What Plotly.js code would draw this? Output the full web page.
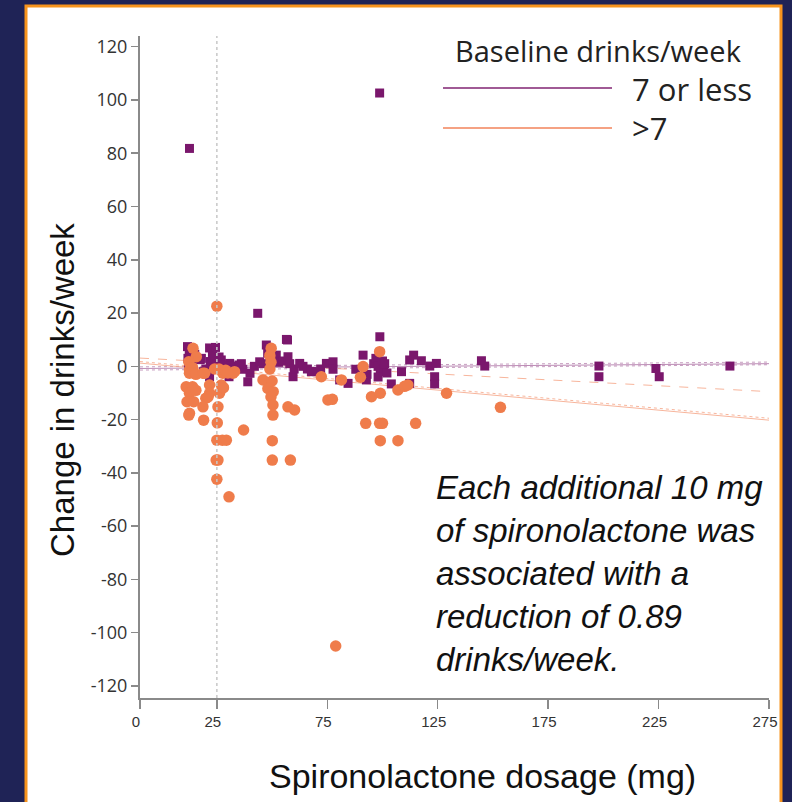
<!DOCTYPE html>
<html>
<head>
<meta charset="utf-8">
<script src="https://cdn.plot.ly/plotly-3.0.1.min.js"></script>
<style>html,body{margin:0;padding:0;background:#1f2356;}#chart{width:792px;height:802px;}</style>
</head>
<body>
<div id="chart"></div>
<script>
// ---- Data ----
const groupNames = ["7 or less", ">7"];

// Baseline 7 or less drinks/week: dose (mg) and change in drinks/week
const lowDose = [12.6, 98.7, 43.5, 57, 98.8,
  11.7, 12.5, 11.9, 13.5, 12.2, 15, 17.5, 18, 21.7, 24.4, 23, 26, 27, 22, 25, 20, 21.7, 19, 28,
  30.8, 31.5, 33, 35, 36.8, 39, 30.5, 36.1, 40, 42, 44.4, 46, 47.4, 48, 50, 51.9, 53, 55, 56.5,
  57.2, 58, 59.5, 60, 62.5, 64, 66, 67.8, 70, 72, 74.6, 77.6, 77.6, 80.6, 84.4, 87.9, 91.2, 92.7,
  93, 96, 97, 98, 99, 100, 100.5, 101, 98, 102, 104, 108.6, 112.3, 114.1, 117.6, 112.3, 121.4,
  124.4, 123.6, 123.6, 144.8, 146.3, 198, 198, 223.8, 225.3, 257.3];
const lowChange = [81.8, 102.6, 19.9, 9.9, 11.1,
  7.4, 5.5, 3.0, 1.5, -0.5, 4.5, 2.5, 3, 6.9, 7.1, 4, 3.5, 2.4, 1.8, 1.0, -1, -3.9, -2, 0.5,
  1.1, 0, -0.5, 0.5, -1.1, -5.8, -3.9, 1, -2.6, 0, 1.7, 1.0, 8, 5, 4, 4.2, 1.5, 2, 10.1,
  3.6, 1, -3.9, -1, 1.1, 0, -1, -2, -2, -1, 1.1, 1.7, -1.1, -5.1, -6.4, -1.1, 4.2, -5.1,
  -3, 1, 3, 0, -2, 2, -1, 1, -4, -2.5, -6.6, -2, 2.4, 4.2, 2.1, -6.4, 0.1,
  1.1, -3.9, -6.6, 2.1, 0.1, 0.1, -3.9, -0.8, -3.9, 0.1];

// Baseline more than 7 drinks/week
const highDose = [25, 78.8, 153.4, 129, 115, 107, 99, 98.7, 92.4, 100,
  14.2, 15.7, 12.3, 12.6, 14, 12.6, 15.5, 11.1, 14, 12.6, 15.5, 11.5, 14.5, 12.6, 12.3,
  18.7, 19.5, 21.7, 21.7, 20, 18.7, 19, 21,
  27.7, 32.3, 33, 26.2, 27, 25.5, 25.2, 25, 27.5, 29.3, 24.7, 25.5, 25, 30.5, 37.1, 24, 26, 29, 30, 28,
  49.6, 49, 49.5, 49, 45.9, 50, 48.1, 50.5, 49.5, 50.4, 50.4, 57.2, 60.2, 50.1, 50.1, 58.3, 72.3, 75.3,
  98.7, 91.2, 81.4, 77.3, 90, 95, 99, 107, 110, 111.5];
const highChange = [22.6, -105, -15.4, -10.1, -21.4, -27.9, -27.9, -21.4, -21.4, -21.4,
  6.8, 3.6, 1.7, -1.4, -0.5, -2.6, -3, -7.7, -7.7, -10.1, -9, -13.3, -13.3, -17.6, -18.3,
  -2.6, -2.6, -7, -10.1, -12, -15.2, -20.2, -11.5,
  -2.6, -2.6, -2, -10.1, -7, -15.2, -21.2, -27.7, -27.7, -27.7, -35.2, -35.2, -42.4, -49, -23.9, -1, -1, -1.5, -2.5, -8,
  6.8, 4, 1.5, -1, -5.1, -5.5, -8.3, -9.5, -11.5, -14.5, -18.3, -15.2, -16.4, -27.9, -35.2, -35.2, -3.9, -12.6,
  5.5, -0.1, -5.1, -12.4, -4.1, -11.4, -10.1, -8.9, -7.5, -7];

// Fitted lines (values at the left axis end and at 275 mg)
const fitDose = [-9.8, 275];
const lowFit = [-0.8, 1.0];
const lowCIUpper = [-0.2, 1.6];
const lowCILower = [-1.4, 0.6];
const highFit = [1.2, -20.2];
const highCIa = [1.8, -19.5];
const highCIb = [3.1, -9.5];

// Tick labels
const xTickVals = [-9.8, 25, 75, 125, 175, 225, 275];
const xTickText = ["0", "25", "75", "125", "175", "225", "275"];
const yTickVals = [-120, -100, -80, -60, -40, -20, 0, 20, 40, 60, 80, 100, 120];
const yTickText = ["-120", "-100", "-80", "-60", "-40", "-20", "0", "20", "40", "60", "80", "100", "120"];
const refDose = 25;

const purple = "#7a176c";
const orange = "#ef7c4b";
const purpleLine = "#a05a95";
const orangeLine = "#f5a283";

const traces = [
  {x: fitDose, y: lowCIUpper, mode: "lines", line: {color: "rgba(160,90,149,0.6)", width: 1, dash: "dot"}, hoverinfo: "skip", showlegend: false},
  {x: fitDose, y: lowCILower, mode: "lines", line: {color: "rgba(160,90,149,0.6)", width: 1, dash: "dot"}, hoverinfo: "skip", showlegend: false},
  {x: fitDose, y: highCIa, mode: "lines", line: {color: "rgba(245,162,131,0.8)", width: 1, dash: "dot"}, hoverinfo: "skip", showlegend: false},
  {x: fitDose, y: highCIb, mode: "lines", line: {color: "rgba(245,162,131,0.8)", width: 1, dash: "dash"}, hoverinfo: "skip", showlegend: false},
  {x: fitDose, y: lowFit, mode: "lines", line: {color: "rgba(160,90,149,0.7)", width: 1}, hoverinfo: "skip", showlegend: false},
  {x: fitDose, y: highFit, mode: "lines", line: {color: "rgba(245,162,131,0.8)", width: 1}, hoverinfo: "skip", showlegend: false},
  {x: lowDose, y: lowChange, mode: "markers", name: groupNames[0], showlegend: false,
   marker: {symbol: "square", size: 9, color: purple}},
  {x: highDose, y: highChange, mode: "markers", name: groupNames[1], showlegend: false,
   marker: {symbol: "circle", size: 11.5, color: orange}}
];

function px2x(px) { return (px - 140) / 629; }
function py2y(py) { return (698 - py) / 662; }

const layout = {
  width: 792, height: 802,
  margin: {l: 140, r: 23, t: 36, b: 104},
  paper_bgcolor: "#1f2356",
  plot_bgcolor: "rgba(0,0,0,0)",
  showlegend: false,
  xaxis: {
    range: [-9.8, 275], showgrid: false, zeroline: false,
    showline: true, linecolor: "#8a8a8a", linewidth: 2,
    ticks: "outside", ticklen: 9, tickwidth: 1.5, tickcolor: "#8a8a8a",
    tickvals: xTickVals, ticktext: xTickText, ticklabelshift: -4,
    tickfont: {family: "Liberation Sans, Arial, sans-serif", size: 15, color: "#333"}
  },
  yaxis: {
    range: [-124.5, 124], showgrid: false, zeroline: false,
    showline: true, linecolor: "#8a8a8a", linewidth: 2,
    ticks: "outside", ticklen: 7, tickwidth: 1.5, tickcolor: "#8a8a8a",
    tickvals: yTickVals, ticktext: yTickText,
    tickfont: {family: "Open Sans, Noto Sans, sans-serif", size: 18, color: "#333"}
  },
  shapes: [
    {type: "rect", xref: "paper", yref: "paper", layer: "below",
     x0: px2x(26), x1: px2x(781), y0: py2y(830), y1: py2y(6),
     fillcolor: "#ffffff", line: {color: "#f7941d", width: 3}},
    {type: "line", xref: "x", yref: "paper", x0: refDose, x1: refDose, y0: 0, y1: 1,
     line: {color: "#c8c8c8", width: 1.5, dash: "dot"}},
    {type: "line", xref: "paper", yref: "paper", x0: px2x(443), x1: px2x(612), y0: py2y(88), y1: py2y(88),
     line: {color: purpleLine, width: 2}},
    {type: "line", xref: "paper", yref: "paper", x0: px2x(443), x1: px2x(612), y0: py2y(128), y1: py2y(128),
     line: {color: orangeLine, width: 2}}
  ],
  annotations: [
    {xref: "paper", yref: "paper", x: px2x(482), y: py2y(776), xanchor: "center", yanchor: "middle", showarrow: false,
     text: "Spironolactone dosage (mg)", font: {family: "Liberation Sans, Arial, sans-serif", size: 34, color: "#111"}},
    {xref: "paper", yref: "paper", x: px2x(62), y: py2y(390), xanchor: "center", yanchor: "middle", showarrow: false, textangle: -90,
     text: "Change in drinks/week", font: {family: "Liberation Sans, Arial, sans-serif", size: 33, color: "#111"}},
    {xref: "paper", yref: "paper", x: px2x(598), y: py2y(51), xanchor: "center", yanchor: "middle", showarrow: false,
     text: "Baseline drinks/week", font: {family: "Open Sans, Noto Sans, sans-serif", size: 29, color: "#222"}},
    {xref: "paper", yref: "paper", x: px2x(630), y: py2y(89), xanchor: "left", yanchor: "middle", showarrow: false,
     text: groupNames[0], font: {family: "Open Sans, Noto Sans, sans-serif", size: 31, color: "#222"}},
    {xref: "paper", yref: "paper", x: px2x(630), y: py2y(128), xanchor: "left", yanchor: "middle", showarrow: false,
     text: groupNames[1], font: {family: "Open Sans, Noto Sans, sans-serif", size: 31, color: "#222"}},
    {xref: "paper", yref: "paper", x: px2x(434), y: py2y(573), xanchor: "left", yanchor: "middle", align: "left", showarrow: false,
     text: "<i>Each additional 10 mg<br>of spironolactone was<br>associated with a<br>reduction of 0.89<br>drinks/week.</i>",
     font: {family: "Liberation Sans, Arial, sans-serif", size: 33, color: "#111"}}
  ]
};

Plotly.newPlot("chart", traces, layout, {displayModeBar: false, staticPlot: true});
</script>
</body>
</html>
